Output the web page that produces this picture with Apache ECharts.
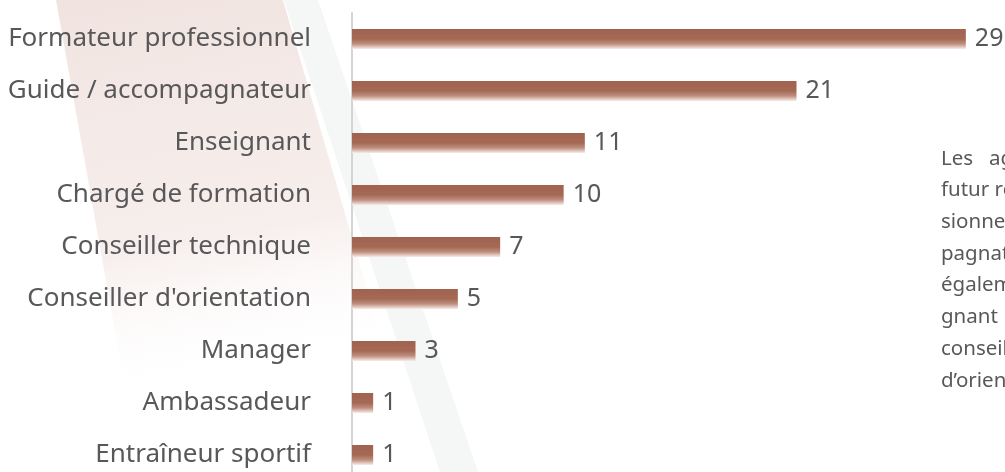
<!DOCTYPE html>
<html>
<head>
<meta charset="utf-8">
<script src="https://cdn.jsdelivr.net/npm/echarts@6/dist/echarts.min.js"></script>
<style>
html,body{margin:0;padding:0;background:#fff;}
#chart{width:1005px;height:472px;}
</style>
</head>
<body>
<div id="chart"></div>
<script>
const categories = ['Formateur professionnel', 'Guide / accompagnateur', 'Enseignant', 'Chargé de formation', 'Conseiller technique', "Conseiller d'orientation", 'Manager', 'Ambassadeur', 'Entraîneur sportif'];
const values = [29, 21, 11, 10, 7, 5, 3, 1, 1];
const sideLines = ['Les   agents', 'futur rôle', 'sionnel', 'pagnateur', 'également', 'gnant', 'conseiller', 'd’orientation'];

const FONT = '"Noto Sans"';
const chart = echarts.init(document.getElementById('chart'), null, {renderer: 'canvas'});
chart.setOption({
  backgroundColor: '#ffffff',
  animation: false,
  grid: {left: 352, top: 13, width: 635, height: 468, containLabel: false, outerBoundsMode: 'none'},
  xAxis: {
    type: 'value', min: 0, max: 30,
    show: false
  },
  yAxis: {
    type: 'category', data: categories, inverse: true,
    axisLine: {show: true, lineStyle: {color: '#d4d4d4', width: 2}},
    axisTick: {show: false},
    splitLine: {show: false},
    axisLabel: {margin: 41, color: '#58585a', fontSize: 26, fontFamily: FONT}
  },
  graphic: [
    {
      type: 'polygon', z: -10, silent: true,
      shape: {points: [[56, 0], [283, 0], [420, 472], [140, 472]]},
      style: {
        fill: new echarts.graphic.LinearGradient(0, 0, 0.25, 1, [
          {offset: 0, color: 'rgba(236,218,213,0.75)'},
          {offset: 0.55, color: 'rgba(240,226,222,0.55)'},
          {offset: 0.85, color: 'rgba(255,255,255,0)'}
        ])
      }
    },
    {
      type: 'polygon', z: -9, silent: true,
      shape: {points: [[284, 0], [318, 0], [478, 472], [440, 472]]},
      style: {fill: '#f5f6f6'}
    },
    {
      type: 'text', left: 941, top: 143, silent: true,
      style: {
        text: sideLines.join('\n'),
        fill: '#58585a', fontSize: 20.5, fontFamily: FONT, lineHeight: 31.7
      }
    }
  ],
  series: [{
    type: 'bar',
    data: values,
    barWidth: 20,
    itemStyle: {
      color: new echarts.graphic.LinearGradient(0, 0, 0, 1, [
        {offset: 0, color: '#a1624f'},
        {offset: 0.5, color: '#a46954'},
        {offset: 0.75, color: '#c08f80'},
        {offset: 1, color: '#f6ece8'}
      ])
    },
    label: {
      show: true, position: 'right', distance: 9,
      color: '#58585a', fontSize: 25, fontFamily: FONT
    }
  }]
});
</script>
</body>
</html>
